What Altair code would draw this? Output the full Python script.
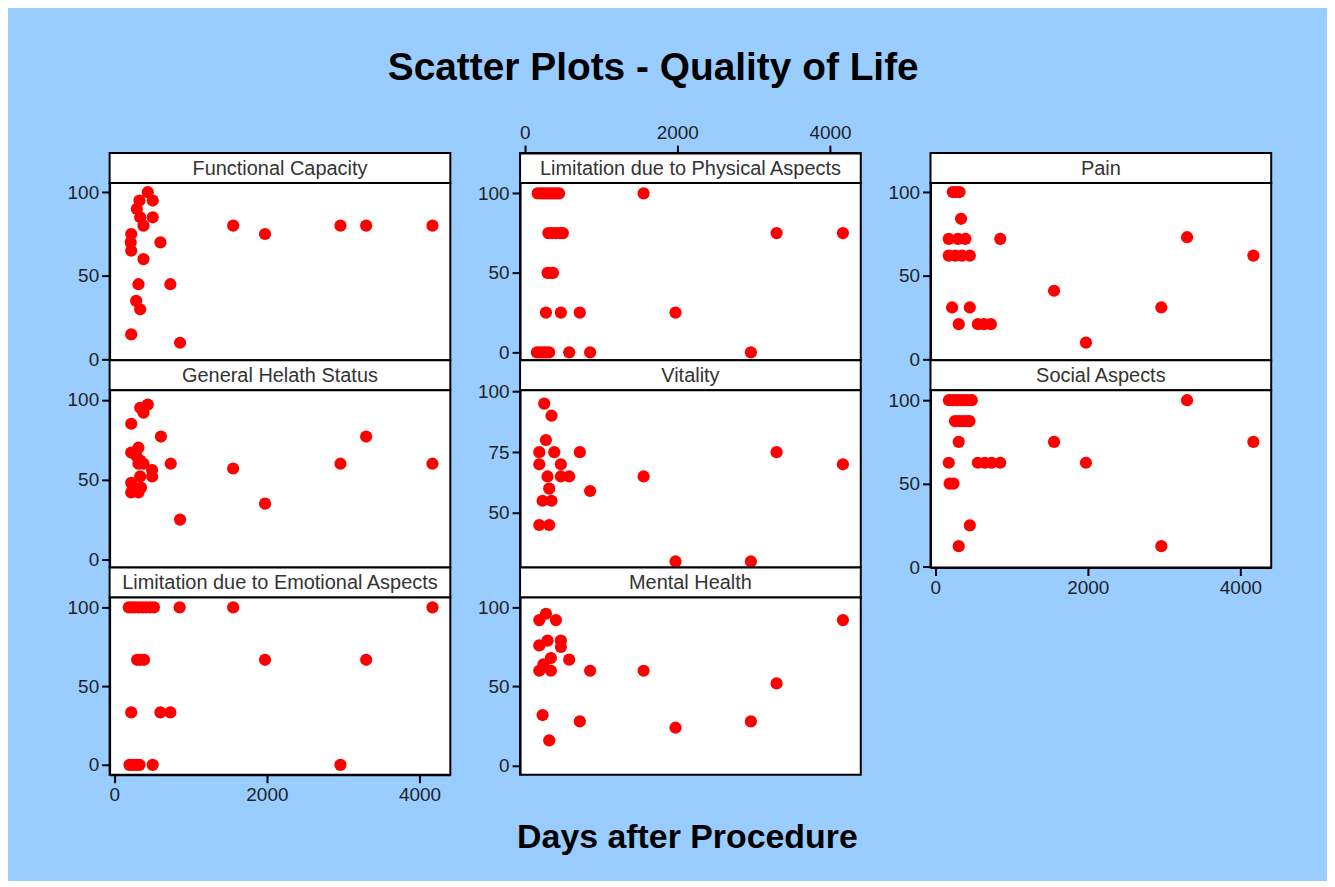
import altair as alt
import pandas as pd

FONT = "Liberation Sans"
BG = "#99CCFF"
PW, HH, PH = 342, 30, 178
X_DOMAIN = [-61, 4404]
X_TICKS = [0, 2000, 4000]

# ---- data (days after procedure, score) ----
fc_days = [439, 330, 504, 296, 340, 504, 383, 1558, 1976, 2964, 3301, 4170,
           222, 215, 222, 605, 383, 317, 735, 287, 340, 222, 862]
fc_vals = [100, 95, 95, 90, 85, 85, 80, 80, 75, 80, 80, 80,
           75, 70, 65, 70, 60, 45, 45, 35, 30, 15, 10]

gh_days = [439, 340, 383, 222, 612, 3301, 317, 222, 287, 340, 317, 383,
           740, 2964, 4170, 1558, 496, 496, 340, 222, 350, 222, 317, 1976, 862]
gh_vals = [97, 95, 92, 85, 77, 77, 70, 67, 65, 62, 60, 60,
           60, 60, 60, 57, 56, 52, 52, 48, 45, 42, 42, 35, 25]

em_days = [190, 230, 270, 320, 370, 420, 470, 520, 857, 1558, 4170,
           300, 340, 390, 1976, 3301,
           222, 605, 735,
           200, 240, 290, 330, 504, 2964]
em_vals = [100, 100, 100, 100, 100, 100, 100, 100, 100, 100, 100,
           66.7, 66.7, 66.7, 66.7, 66.7,
           33.3, 33.3, 33.3,
           0, 0, 0, 0, 0, 0]

ph_days = [170, 210, 250, 290, 330, 370, 410, 450, 1558,
           310, 360, 410, 460, 500, 3301, 4170,
           300, 340, 370,
           278, 474, 722, 1976,
           160, 200, 240, 280, 320, 583, 857, 2964]
ph_vals = [100, 100, 100, 100, 100, 100, 100, 100, 100,
           75, 75, 75, 75, 75, 75, 75,
           50, 50, 50,
           25, 25, 25, 25,
           0, 0, 0, 0, 0, 0, 0, 0]

vi_days = [256, 351, 278, 191, 387, 722, 3301, 191, 474, 4170, 299, 474,
           583, 1558, 321, 857, 234, 351, 191, 321, 1976, 2964]
vi_vals = [95, 90, 80, 75, 75, 75, 75, 70, 70, 70, 65, 65,
           65, 65, 60, 59, 55, 55, 45, 45, 30, 30]

mh_days = [278, 191, 409, 4170, 299, 474, 191, 474, 343, 583, 245, 191,
           343, 857, 1558, 3301, 234, 722, 2964, 1976, 321]
mh_vals = [96, 92, 92, 92, 79, 79, 76, 75, 68, 67, 64, 60,
           60, 60, 60, 52, 32, 28, 28, 24, 16]

pa_days = [230, 270, 320, 339, 178, 300, 396, 853, 3301,
           178, 265, 352, 454, 4170, 1558, 222, 454, 2964,
           309, 560, 640, 730, 1976]
pa_vals = [100, 100, 100, 84, 72, 72, 72, 72, 73,
           62, 62, 62, 62, 62, 41, 31, 31, 31,
           21, 21, 21, 21, 10]

so_days = [180, 230, 280, 330, 380, 430, 480, 3301,
           260, 310, 360, 410, 450,
           309, 1558, 4170,
           178, 560, 650, 740, 853, 1976,
           190, 240, 454, 309, 2964]
so_vals = [100, 100, 100, 100, 100, 100, 100, 100,
           87.5, 87.5, 87.5, 87.5, 87.5,
           75, 75, 75,
           62.5, 62.5, 62.5, 62.5, 62.5, 62.5,
           50, 50, 25, 12.5, 12.5]

panel_titles = ["Functional Capacity", "General Helath Status",
                "Limitation due to Emotional Aspects",
                "Limitation due to Physical Aspects", "Vitality", "Mental Health",
                "Pain", "Social Aspects"]
panel_days = [fc_days, gh_days, em_days, ph_days, vi_days, mh_days, pa_days, so_days]
panel_vals = [fc_vals, gh_vals, em_vals, ph_vals, vi_vals, mh_vals, pa_vals, so_vals]
panel_ydom = [[-0.5, 105.5], [-5, 106], [-6.3, 106.3], [-5, 106.5],
              [27.5, 100.5], [-5.7, 106.3], [-0.6, 105.4], [-0.3, 106]]
panel_yticks = [[0, 50, 100]] * 4 + [[50, 75, 100]] + [[0, 50, 100]] * 3

FRAME = alt.ViewBackground(fill="white", stroke="black", strokeWidth=2)
NOFRAME = alt.ViewBackground(fill=None, stroke=None)
xscale = alt.Scale(domain=X_DOMAIN, nice=False, zero=False)


def header(title, axis_mode=None):
    base = alt.Chart(pd.DataFrame({"d": [0], "t": [title]}))
    txt = base.mark_text(font=FONT, fontSize=20, color="#333333").encode(
        x=alt.value(PW / 2), y=alt.value(HH / 2 + 1), text="t:N")
    if axis_mode is None:
        return txt.properties(width=PW, height=HH, view=FRAME)
    if axis_mode == "visible":
        ax = alt.Axis(orient="top", values=X_TICKS, title=None, format="d")
    else:
        ax = alt.Axis(orient="top", values=X_TICKS, title=None, format="d",
                      labelOpacity=0, tickOpacity=0, domainOpacity=0)
    pts = base.mark_point(opacity=0).encode(x=alt.X("d:Q", scale=xscale, axis=ax))
    return alt.layer(pts, txt).properties(width=PW, height=HH, view=FRAME)


def plot(i, show_xaxis):
    df = pd.DataFrame({"days": panel_days[i], "score": panel_vals[i]})
    xax = alt.Axis(values=X_TICKS, title=None, format="d") if show_xaxis else None
    return alt.Chart(df).mark_circle(size=150, color="#FF0000", opacity=1).encode(
        x=alt.X("days:Q", scale=xscale, axis=xax),
        y=alt.Y("score:Q", scale=alt.Scale(domain=panel_ydom[i], nice=False, zero=False),
                axis=alt.Axis(values=panel_yticks[i], title=None, format="d")),
    ).properties(width=PW, height=PH, view=FRAME)


col1 = alt.vconcat(header(panel_titles[0], "hidden"), plot(0, False),
                   header(panel_titles[1]), plot(1, False),
                   header(panel_titles[2]), plot(2, True), spacing=0, bounds="flush")
col2 = alt.vconcat(header(panel_titles[3], "visible"), plot(3, False),
                   header(panel_titles[4]), plot(4, False),
                   header(panel_titles[5]), plot(5, False), spacing=0, bounds="flush")
col3 = alt.vconcat(header(panel_titles[6], "hidden"), plot(6, False),
                   header(panel_titles[7]), plot(7, True), spacing=0, bounds="flush")

panels = alt.hconcat(col1, col2, col3, spacing=25)

xlabel = alt.Chart(pd.DataFrame({"t": ["Days after Procedure"]})).mark_text(
    font=FONT, fontSize=34, fontWeight="bold", color="black").encode(
    x=alt.value(580), y=alt.value(27), text="t:N").properties(
    width=1160, height=45, view=NOFRAME)

chart = alt.vconcat(panels, xlabel, spacing=6).properties(
    title=alt.TitleParams("Scatter Plots - Quality of Life", font=FONT, fontSize=39,
                          fontWeight="bold", color="black", anchor="middle",
                          offset=34, dx=-16),
    background=BG,
    padding={"left": 58, "right": 55, "top": 40, "bottom": 23},
).configure_axis(
    labelFont=FONT, labelFontSize=19, labelColor="#1f1f1f", labelPadding=3,
    tickColor="black", tickWidth=2, tickSize=8,
    domainColor="black", domainWidth=2, grid=False,
).configure_concat(spacing=0)

chart.save("out.html", embed_options={"renderer": "svg", "actions": False})
